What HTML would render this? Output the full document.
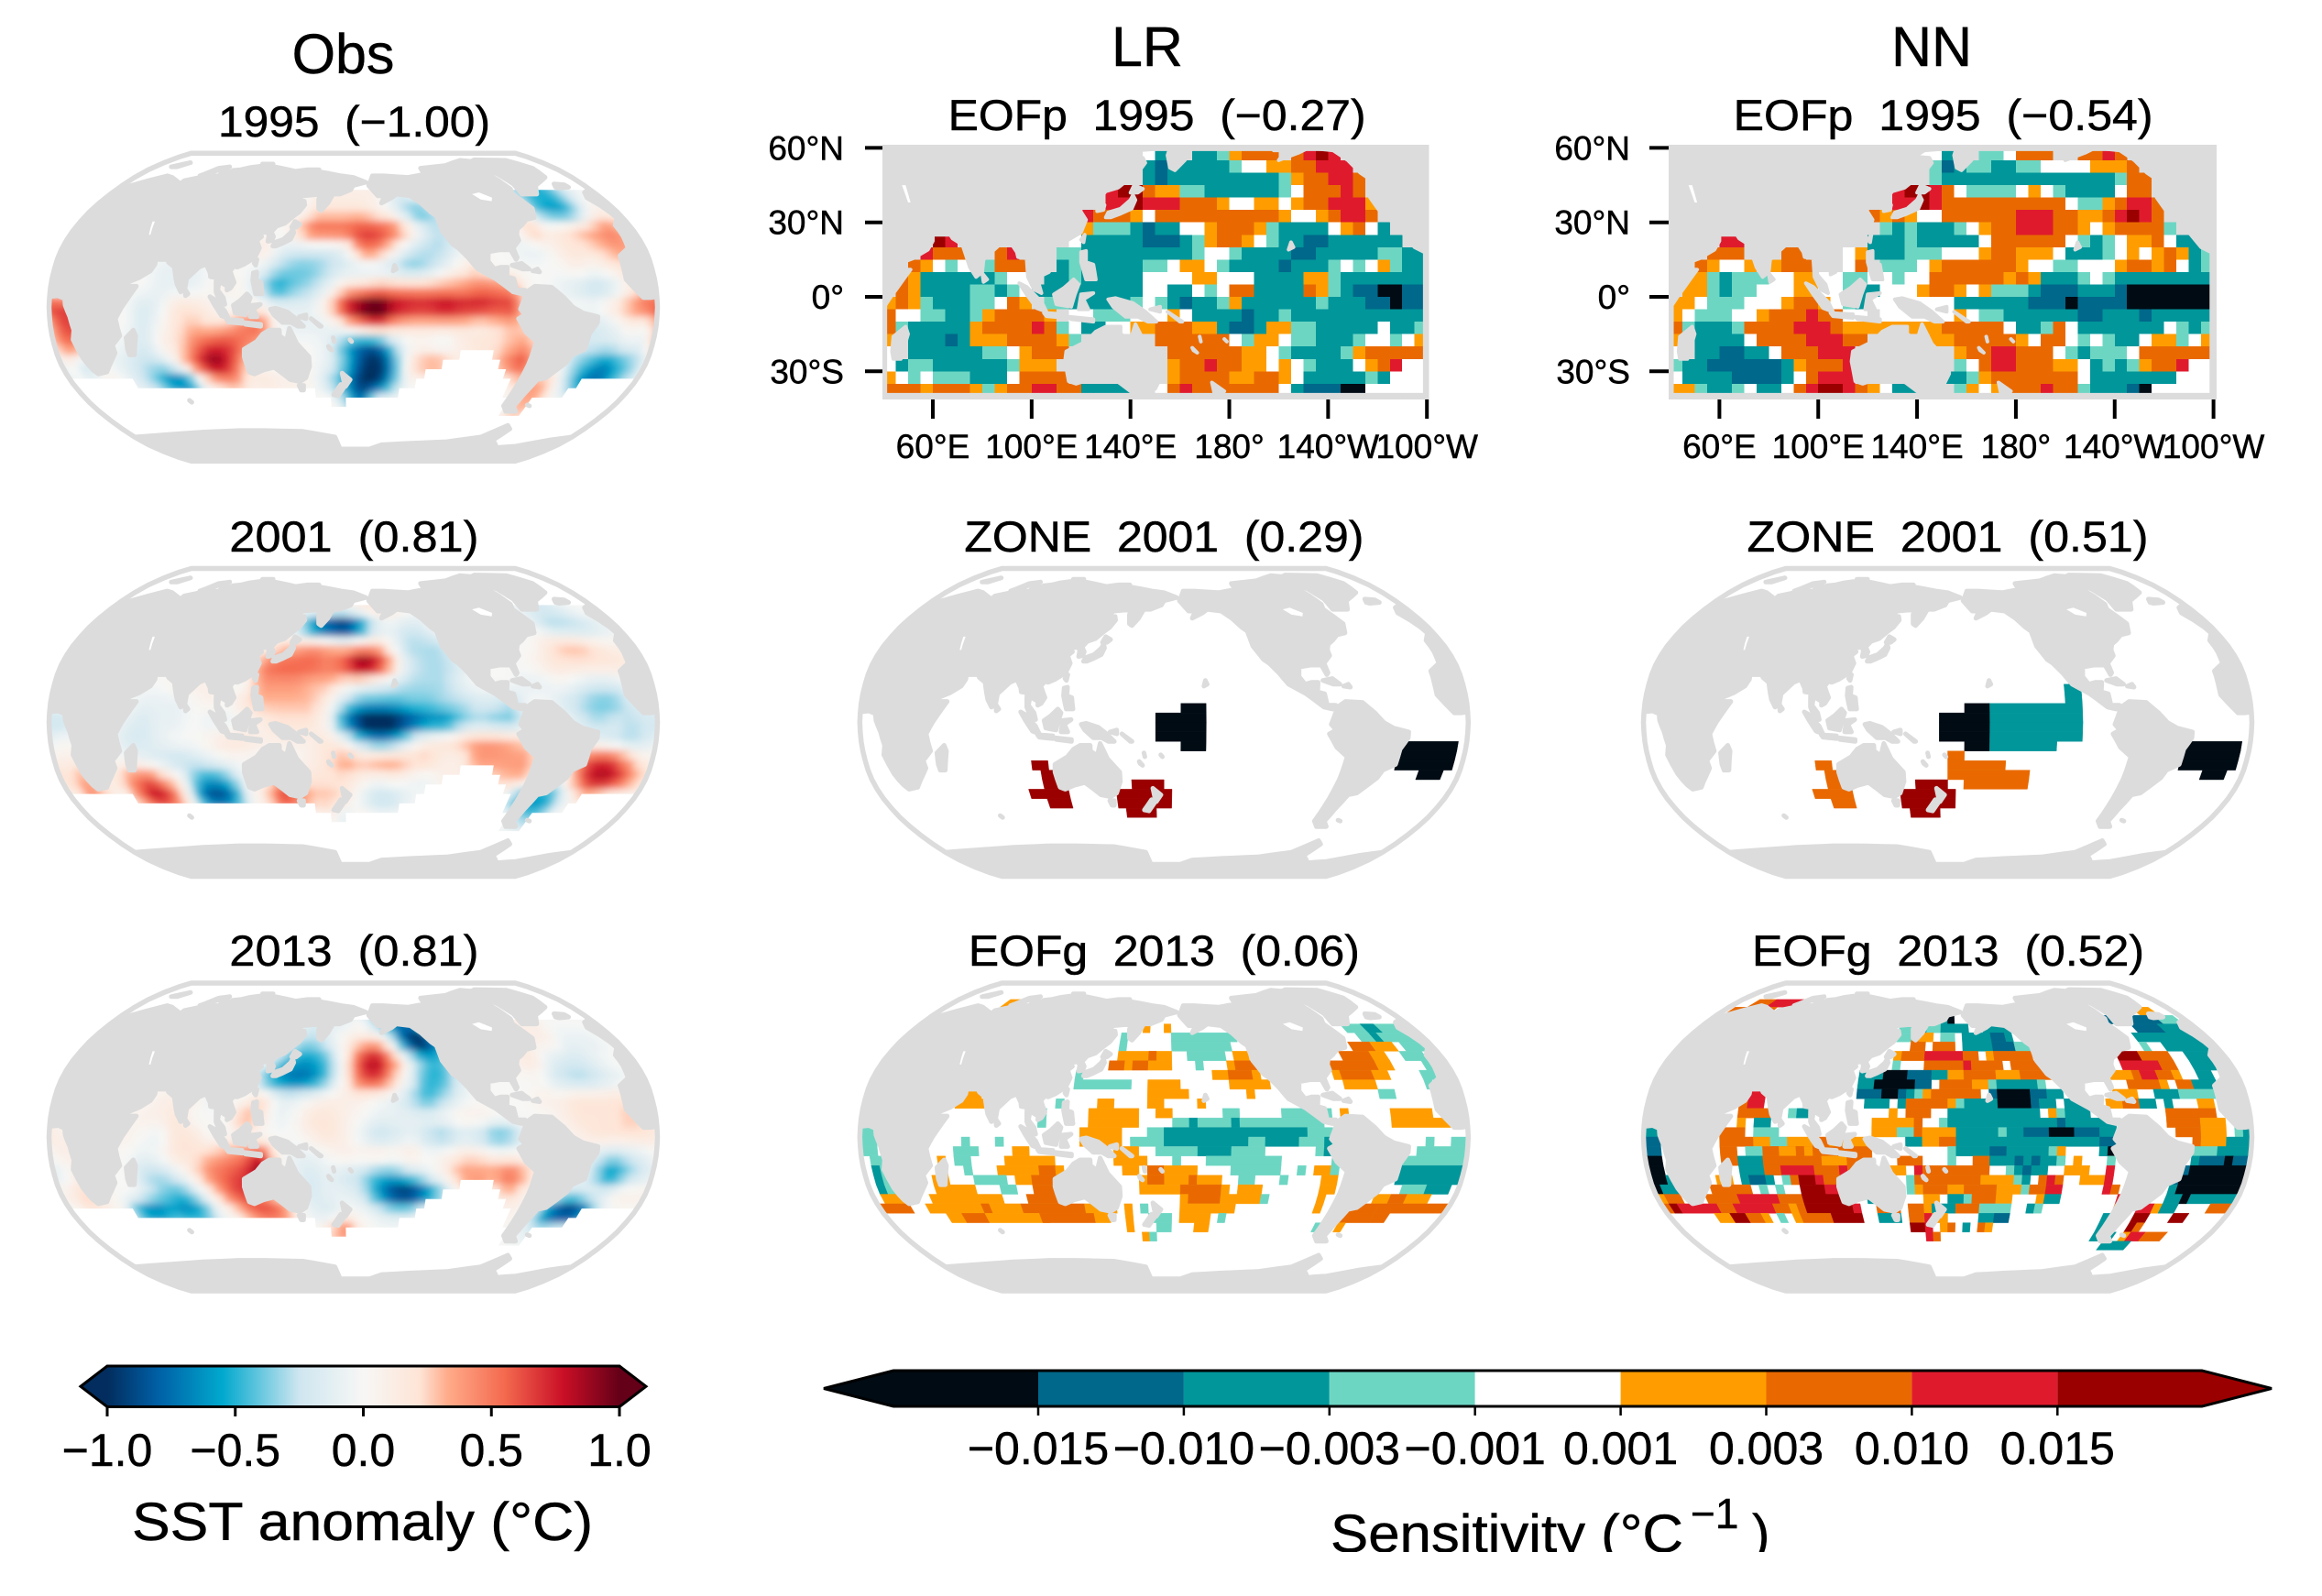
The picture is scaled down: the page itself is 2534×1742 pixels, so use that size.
<!DOCTYPE html>
<html lang="en">
<head>
<meta charset="utf-8">
<title>SST anomaly and sensitivity maps</title>
<style>
html,body{margin:0;padding:0;background:#fff;}
#root{position:absolute;left:0;top:0;width:2534px;height:1742px;overflow:hidden;}
svg{position:absolute;left:0;top:0;}
text{font-family:"Liberation Sans",sans-serif;fill:#000;white-space:pre;stroke:#000;stroke-width:0.5;}
</style>
</head>
<body>
<div id="root">
<svg id="fig" xmlns="http://www.w3.org/2000/svg" width="2534" height="1742" viewBox="0 0 2534 1742">
<defs id="defs">
<filter id="soft" x="-5%" y="-5%" width="110%" height="110%"><feGaussianBlur stdDeviation="3.6"/></filter>
<clipPath id="label-clip"><rect x="0" y="1560" width="2534" height="134"/></clipPath>
</defs>
<g id="maps"></g>
<g>
<text x="374.5" y="80" font-size="61" text-anchor="middle">Obs</text>
<text x="1252" y="72" font-size="61" text-anchor="middle">LR</text>
<text x="2108" y="72" font-size="61" text-anchor="middle">NN</text>
</g>
<g font-size="47" text-anchor="middle">
<text x="386.5" y="149" textLength="297" lengthAdjust="spacingAndGlyphs">1995  (−1.00)</text>
<text x="1262.6" y="142" textLength="456" lengthAdjust="spacingAndGlyphs">EOFp  1995  (−0.27)</text>
<text x="2120.6" y="142" textLength="458" lengthAdjust="spacingAndGlyphs">EOFp  1995  (−0.54)</text>
<text x="386.4" y="602" textLength="272" lengthAdjust="spacingAndGlyphs">2001  (0.81)</text>
<text x="1270.4" y="602" textLength="436" lengthAdjust="spacingAndGlyphs">ZONE  2001  (0.29)</text>
<text x="2125.5" y="602" textLength="438" lengthAdjust="spacingAndGlyphs">ZONE  2001  (0.51)</text>
<text x="386.4" y="1054" textLength="272" lengthAdjust="spacingAndGlyphs">2013  (0.81)</text>
<text x="1270.4" y="1054" textLength="427" lengthAdjust="spacingAndGlyphs">EOFg  2013  (0.06)</text>
<text x="2126" y="1054" textLength="428" lengthAdjust="spacingAndGlyphs">EOFg  2013  (0.52)</text>
</g>
<g id="cbar-sst"></g>
<g id="cbar-sens"></g>
<g clip-path="url(#label-clip)">
<text x="144" y="1681" font-size="58" textLength="503" lengthAdjust="spacingAndGlyphs">SST anomaly (°C)</text>
<text x="1452" y="1694" font-size="58" textLength="385" lengthAdjust="spacingAndGlyphs">Sensitivity (°C</text>
<text x="1845" y="1668" font-size="46">−1</text>
<text x="1912" y="1694" font-size="58">)</text>
</g>
</svg>
</div>
<script>
/* ---------- colour classes ---------- */
var sensCodes = ['a','b','c','d','w','e','f','g','h'];
var sensColors = ['#000b14','#00688a','#00969a','#6dd6c3','#ffffff','#ff9d00','#e96900','#e01a2d','#9b0000'];
var sensTicks = [-0.015,-0.010,-0.003,-0.001,0.001,0.003,0.010,0.015];
var sensTickLabels = ['−0.015','−0.010','−0.003','−0.001','0.001','0.003','0.010','0.015'];
var sstTicks = [-1,-0.5,0,0.5,1];
var sstTickLabels = ['−1.0','−0.5','0.0','0.5','1.0'];
var sstStopValues = [-1,-0.8,-0.55,-0.25,0,0.22,0.33,0.55,0.78,1];
var sstStopColors = ['#022d5e','#0060a6','#01a9ce','#cfe6f0','#f7f7f5','#fee4d6','#ffab8a','#f46a4f','#ca0f26','#640018'];

/* ---------- top row: 5 degree cells, 44 columns from 40E, 20 rows from 60N ---------- */
var lrEofp = [
"____ ____ ____ ____ ____ _wc_ _ccd efff _fgh g___ ____",
"____ ____ ____ ____ ____ _cbc cccc dwwe effg gg__ ____",
"____ ____ ____ ____ ____ _cbc cccc cccc deff ggf_ ____",
"____ ____ ____ ____ __gh hfee ddcc cccc dwff fgf_ ____",
"____ ____ ____ ____ __gg hggg fffe wwee weff ggge ____",
"____ ____ ____ ____ gfff ewff ffff ffff ewwe fggf ____",
"____ ____ ____ ____ eddd cbcc wwef ffed cccc wefw c___",
"____ hg__ ____ ___w cccc cbbb cdef fewd ccbb cccc cc__",
"___g fff_ _fg_ __dd cccc cccc cdww dccc cbbc cccc ddcc",
"__fe wdw_ dfff __cd cccc cddw eewd cccc bccc dwdw edcc",
"_fec cccc cdww _ccd cccc cwww weew wwcc ccee dccc cccc",
"_fec cccd dcdw cccc cccc cwwc cwdw ffcc ccfe dcbb aabb",
"efed cccd dwfe _ddc cccc dwdc bccd eccc cccd cccb babb",
"fwwd dccd efff fe_w wddd wwwe wccc cbcc dccc cccc cccc",
"fdcc ccce ffff gfdw ccww eeff feec bbce eddc cccc wccd",
"e_cc cbce eeff ffed ____ __ff ffff wdee wddc ccdw wdwe",
"w_cc cccc ddwe fff_ ____ ___f ffff feew dccc cdef ffff",
"wcdd cccc ccde ee__ ____ ___e ffgf feew ewdc ccwe fgww",
"ewdw dddc ccwf fff_ ____ ___e ffff eeff ewcc cccd cwww",
"fffe fffe deff ggff cccc __wf gfff ffff wcbb baaw wwww"
];
var nnEofp = [
"____ ____ ____ ____ ____ wwc_ _ddw fff_ _ffg f___ ____",
"____ ____ ____ ____ ____ _dbc ddcc ddww wwee ef__ ____",
"____ ____ ____ ____ ____ _dcc cccc cccc cccc dff_ ____",
"____ ____ ____ ____ __gh hgfw dddd wewd cccc wff_ ____",
"____ ____ ____ ____ __gg hgff ffff ffff wdde fggf ____",
"____ ____ ____ ____ fefe wwff ffff gggf feef ghgf ____",
"____ ____ ____ ____ _dcd cccd weff gggf fewe ffff d___",
"____ gg__ ____ ____ cccd cccc cwff ffff wdcd weef wcc_",
"___f ff__ _ff_ __we cccd ddww weff eeew cccd wewe fecd",
"__fe wwe_ efff __wf _ddd weff ffff ewwd dwww effe fwcd",
"_eed cddd wwee wwdd wwdw wfff fffe fecc cdwd cccc cccc",
"_eed cddw wwee wwdc cwww effe wedd dcbb bccc baaa aaaa",
"eewd ddww weff ewdc wwww wwwc cccc cbbb abbb baaa aaaa",
"ewdd dwwe fffg ffww _www wwwe wddc cccc cbbc ccbc cccc",
"fdcc cdff ffgg gfee eeee eeff fffw ccdf wccc cccc wdcd",
"e_cc ccwf fffg ggff ____ _eef ffff ewff wdwd ccwe edwe",
"w_cc bbcc wfff ggg_ ____ ___e ffgg fffw dcdd dwff ffff",
"dccb bbbb bcef ffg_ ____ ___d wfgg fffe ewcd cdef fgww",
"wccc cbbb bcwf ggg_ ____ __cc deff ffff fwcc cccc cwww",
"eedc cdwc cwfg hhgf ewcc ___d ewef ffgf fdcc cbaw wwww"
];
var lonTicks = [60,100,140,180,220,260];
var lonTickLabels = ['60°E','100°E','140°E','180°','140°W','100°W'];
var latTicks = [60,30,0,-30];
var latTickLabels = ['60°N','30°N','0°','30°S'];

/* ---------- Robinson panels: rows of 5 degree bands, upper latitude from 75 down to -55.
   Each run is "firstCol-lastCol+class"; col k spans lon 5k..5k+5 ---------- */
var lrEofg = [
"9-11e","","",
"33e 36e 62-71d 65-66c",
"30d 37-45d 63-71d 65c",
"30d 37-44d 61-63f 64-66e 68-71d",
"30-36e 34f 39-43d 45-46e 59-62f 63-64e 67-69d",
"5-6e 29-30f 31e 32-33f 34-36e 40d 44e 45-47f 57-62f 63-64e 69d",
"25d 42-43e 44-46f 47e 57e 58-61f 62-63e 68-69d",
"25-31d 34-37e 44-48e 58-61e 68d",
"12-13e 34-38e 46e 62-63d",
"11-14e 23d 28-29e 34-35e 40e",
"21d 27-32e 35-36e 43-44d 50-55d 57e 63-67e",
"21d 27-32e 37-38d 39c 40-43d 44c 45-54d 63-69e",
"0-1d 26-30e 34-35d 36-52c 53-55d",
"0-1d 12d 16d 26-30e 32-35d 36-45c 46-47d 48-51c 52-54d 55c 67d 70-71d",
"0-1d 11-13d 18-19e 30-32e 35-39d 40-43c 44-47d 54d 55c 66-71d",
"1-2d 9e 11-12d 17-22e 30-33e 37d 41-49d 56d 64-71d",
"1c 2d 9e 12d 16-20e 21-22f 23e 31-32e 34-35f 36-39e 44-49d 52d 54-55e 56d 64-71c",
"1c 2-3d 8-9e 13-16d 18-19e 20-23f 33-38e 34-35f 39f 40-42e 45-46d 50d 55-56e 64-71c",
"1c 2-4d 8-12e 16-17d 20-23f 33-37e 38-42f 43e 45-47e 55-56e 65-67d 68-70c",
"1-3e 7-15e 19-23f 27-28e 38e 39-42f 43-47e 48d 55e 62-63e 64-65f 66-68e",
"0-3f 6-11e 12-17e 13f 18-25f 26-29e 31e 33d 38-44e 55e 59-62f 63-71f",
"8-9e 10-12f 13-20e 20-26f 27-28e 31e 34-36d 38-41e 43d 59-62f 63-64f",
"31e 35-36d 40-41e 56d 59e",
"33e 34d",
""
];
var nnEofg = [
"3-5f 6-10g",
"1-7f 66-68e",
"29-30d 33-35c 36a 59-67b 68-70d",
"29-30d 31-32c 33-34d 35-38c 41-44c 63-66b 67-71c",
"29-30d 31f 32-33e 35-36d 38-41c 42-43b 44c 62-71c",
"31-32f 34-36f 38-41c 42-44b 45-46d 62d 65-71c",
"29e 30-32f 33-37g 38-39f 41e 42-46f 58-60h 61-64f 67-70c",
"29d 33-37f 38g 39-42f 44-47f 58-62g 63-64f 67-69c",
"25-27c 28-30a 31-33b 34-35c 36-37e 38-41f 42-44e 45-48f 56-58e 59f 60-61g 62-63f 64e 67-68c",
"25-26c 27-31a 32-33b 35-38f 39-40e 41d 42-46c 47d 58-61f 62e 64-65f 66-68c",
"12-13g 25-27b 28-29a 30b 31c 32d 33e 34-39f 41b 42-45a 46-47b 48-49c 56-58e 61-63c 64-68d",
"11f 12-13g 26-28c 30c 31-35f 36e 37d 38-41c 42-45a 46b 47-48c 50-52c 55-56e 57-58f 59-60c 62c 66-67e",
"11-14f 17d 18-19c 29e 31-33f 36-46c 48e 49d 50-52c 62-67f",
"11e 13-14c 27-31e 32f 35d 36-48c 49b 50-55c 62-65f 66-68e 70-71d",
"0-1c 9-11f 13-15d 27-29e 30-31d 32f 33-36e 37-41c 42d 43-44c 45-47b 48-50a 51-53b 54-55c 63-65f 66-68e 70d 71c",
"0-1b 9-12f 13-14e 15-16d 17-19e 20-21f 22-26e 31-32c 33-34e 35-36f 37-53c 54-55b 65f 66-68e 69-71c",
"0-1b 14-26f 9-10f 12-13d 15f 16-17e 18f 19e 20-21f 36d 37-40c 41-42b 43-47c 48d 49e 54c 55-56a 65-67d 68-71c",
"0-1a 9-10f 11-13c 14-20f 21-23e 24-26f 30-32f 36d 39-40f 41-49c 44b 46b 49d 51e 55d 65c 66-68b 69a 70-71b",
"0-1a 11-13c 14-15f 16-19g 20-22f 23g 24-25f 29-30e 32g 33-40f 43d 44-47c 45b 50-51e 52e 55g 64b 65-71a",
"0-1a 2c 8-9e 11c 12-13b 14c 16d 17f 18-19h 20g 21-22f 31-32d 32-39f 40-43e 44d 45c 47f 48g 49f 52-54e 55g 63b 64-71a",
"0a 1-2c 7-11f 13d 15d 18-20h 21-22g 31d 32e 33-36f 36-37e 38-41f 42-44e 45d 46-47f 48-49g 55g 56f 63c 64-71a",
"0e 1-2f 6-9f 10-14g 15-17f 18-22h 26-27c 33-34e 36-37c 38d 39-41f 42-43e 47e 48-49c 57g 63-64c 65a 66-71c",
"0f 1h 2-6g 7-8f 9-13g 14-15f 16e 17f 18-23h 24g 27-29f 31-32f 33e 34-36c 37-39f 40-43d 46c 47d 57f 60-61g 62e 63-64c 69-71f",
"6-7e 8-9h 10-11f 12e 14d 16e 17-20f 21-24h 27-29c 31-32f 33g 34-35e 40-41c 42-43b 56-57c 60-61h 65-66h",
"31-32h 33g 35e 36f 38c 40f 41e 56-57c 60h 61f",
"33g 34f 56-58c 60e 61-62g 63-65f",
"58-61c"
];
var lrZone = ["","","","","","","","","","","","","","38-40a","35-40a","35-40a","35-40a","38-40a 64-70a","64-70a","20-21h 64-70a","21-22h 67-69a","21-23h 32-35h","19-23h 30-36h","21-23h 30-36h","31-34h","",""];
var nnZone = ["","","","","","","","","","","","50-51c","50-51c","38-40a 41-51c","35-40a 41-51c","35-40a 41-51c","35-40a 41-51c","38-40a 41-48c 64-70a","36-37f 64-70a","36-42f 20-21f 64-70a","36-45f 21-22f 67-69a","38-45f 21-23f 32-35h","19-23f 30-36h","21-23f 30-36h","31-34h","",""];

/* ---------- observed SST anomaly in tenths of a degree: rows lat 60..-60 (step 10), cols lon 5..355 (step 10) ---------- */
var sst1995 = [
[0,0,0,0,0,0,0,0,0,0,0,0,0,0,0,1,1,1,1,1,-1,-2,0,0,0,0,0,0,0,0,-4,-5,-5,-3,-1,0],
[0,0,0,0,0,0,0,0,0,0,0,0,0,0,0,2,2,2,2,1,0,-3,-5,-3,-1,0,0,0,0,0,-4,-6,-6,-3,1,1],
[0,0,0,0,0,0,0,0,0,0,0,0,0,0,3,6,6,6,7,7,6,3,-1,-3,-2,-1,0,0,0,4,1,2,3,4,5,3],
[0,0,0,0,0,0,0,0,0,0,0,0,2,-1,-2,-2,-2,-1,5,5,1,-2,-3,-3,-1,0,0,0,-1,-1,1,2,2,3,4,3],
[0,0,0,0,0,0,-1,-1,-1,0,0,0,-1,-3,-4,-4,-3,-2,-2,-2,-3,-4,-3,-1,1,2,0,0,0,0,0,1,0,1,2,1],
[0,0,0,0,0,0,-1,-1,-1,0,1,0,-3,-6,-4,-3,-1,2,3,4,4,4,4,4,4,5,5,4,0,0,-1,-2,-3,-2,1,3],
[7,6,0,0,0,-2,-1,2,2,1,-1,1,1,-1,-1,-1,2,8,11,12,9,8,8,9,8,8,7,7,0,0,0,0,0,2,4,6],
[6,7,0,0,0,-2,0,2,3,2,3,5,6,0,-1,-1,-1,1,4,6,3,2,2,2,2,1,2,3,2,0,-1,-2,-2,-1,1,0],
[5,5,0,0,-1,-2,1,2,5,7,7,5,3,0,0,0,-1,-5,-8,-8,-3,0,0,-1,1,2,2,3,4,0,-1,-2,-2,-2,-1,-1],
[1,-3,0,-1,-2,-3,-2,2,7,10,7,2,0,0,1,0,-1,-4,-9,-11,-6,2,4,4,1,1,2,5,7,0,0,-3,-5,-7,-5,-3],
[0,-1,1,0,-2,-4,-8,-8,0,3,4,1,2,1,1,0,-3,-6,-10,-10,-5,0,0,0,0,0,0,0,2,4,3,-2,-7,-8,-5,-2],
[0,0,0,0,0,0,0,0,0,0,0,0,0,0,0,0,1,-3,-8,0,0,0,0,0,0,0,0,0,0,4,3,0,0,0,0,0],
[0,0,0,0,0,0,0,0,0,0,0,0,0,0,0,0,0,0,0,0,0,0,0,0,0,0,0,0,0,3,0,0,0,0,0,0]
];
var sst2001 = [
[0,0,0,0,0,0,0,0,0,0,0,0,0,0,0,0,0,0,1,2,2,1,0,0,0,0,0,0,0,0,-1,-2,-2,-1,0,0],
[0,0,0,0,0,0,0,0,0,0,0,0,0,0,-4,-9,-11,-12,-8,-3,-1,-2,-2,0,0,0,0,0,0,0,-1,-3,-3,-3,-2,-1],
[0,0,0,0,0,0,0,0,0,0,0,0,0,2,3,4,3,2,3,3,0,-3,-3,-3,-1,0,0,0,0,0,2,3,3,2,1,1],
[0,0,0,0,0,0,0,0,0,0,0,0,5,6,6,6,5,7,11,9,3,-2,-3,-3,-2,0,0,0,0,1,2,2,2,2,2,1],
[0,0,0,0,0,0,0,1,1,1,0,0,4,4,4,3,3,1,0,-1,-2,-3,-3,-3,-1,0,0,0,-1,-1,0,-1,-2,-2,-1,0],
[0,0,0,0,0,-1,-1,-1,0,1,0,2,3,3,3,3,1,-3,-5,-5,-5,-4,-4,-3,-3,-2,-2,-3,0,0,-2,-3,-4,-4,-2,-1],
[-3,-2,0,0,-1,-2,-1,-1,0,-1,-1,0,1,2,2,2,0,-7,-11,-13,-11,-9,-7,-7,-4,-3,-4,-4,0,0,0,-2,-3,-2,-3,-2],
[0,0,0,0,-2,-2,-1,0,0,1,2,2,1,1,1,1,2,0,-4,-6,-5,-1,1,2,3,4,4,3,2,0,0,0,-1,-2,-3,-2],
[1,1,0,0,0,-1,-2,-3,-2,-1,0,0,0,0,0,1,2,4,3,4,4,3,3,1,1,4,4,4,4,0,1,4,7,7,4,1],
[2,4,1,2,5,6,3,0,-5,-6,-4,0,1,3,1,2,2,2,1,0,1,0,-1,1,1,2,2,3,3,0,-2,3,8,9,7,3],
[1,5,2,0,5,9,7,1,-8,-10,-7,0,2,8,6,3,3,2,-1,-3,-3,-1,0,0,0,0,0,0,-6,-7,-6,-2,2,1,0,0],
[0,0,0,0,0,0,0,0,0,0,0,0,0,0,0,0,1,-2,1,0,0,0,0,0,0,0,0,0,0,-4,-4,0,0,0,0,0],
[0,0,0,0,0,0,0,0,0,0,0,0,0,0,0,0,0,0,0,0,0,0,0,0,0,0,0,0,0,0,0,0,0,0,0,0]
];
var sst2013 = [
[0,0,0,0,0,0,0,0,0,0,0,0,0,0,-1,-2,-1,-1,0,-3,-6,-8,-6,0,0,0,0,0,0,1,1,1,0,0,0,0],
[0,0,0,0,0,0,0,0,0,0,0,0,0,0,-3,-3,-1,1,2,3,0,-8,-12,-8,-2,0,0,0,0,1,1,1,-1,-1,-1,0],
[0,0,0,0,0,0,0,0,0,0,0,0,0,-4,-6,-6,-4,1,7,9,5,0,-4,-5,-2,0,0,0,1,2,-1,-2,-2,-1,0,0],
[0,0,0,0,0,0,0,0,0,0,0,0,-5,-7,-8,-7,-4,1,6,7,3,-1,-5,-5,-2,0,0,0,0,0,-2,-3,-3,-2,-1,0],
[0,0,0,0,0,0,1,1,1,-1,0,0,3,-1,-1,0,1,1,1,0,-1,-3,-5,-3,-1,0,0,0,0,1,1,2,2,2,2,1],
[0,0,0,0,0,1,1,2,0,0,0,4,2,-1,0,2,2,1,0,-1,-1,-1,-1,0,1,1,0,0,0,0,1,2,2,2,3,2],
[1,1,0,0,1,0,-1,2,2,0,0,1,0,0,0,1,2,1,-1,-3,-2,-1,-3,-4,-2,-3,-5,-4,0,0,0,1,2,2,2,2],
[1,1,0,0,0,-1,0,2,2,3,4,5,8,1,-1,-1,0,1,1,2,1,2,0,1,2,2,1,1,0,0,0,0,-2,-3,-2,-1],
[-1,1,0,0,0,-3,-3,-1,2,5,6,7,10,0,-1,-2,-1,-2,-3,-5,-5,-3,-1,1,4,4,4,6,3,0,0,0,-3,-7,-4,-2],
[1,3,1,0,0,-2,-4,-5,-2,2,6,7,4,1,-1,-2,-1,-1,-2,-6,-10,-11,-8,-4,0,4,0,3,1,0,-1,-3,-1,-1,1,1],
[0,2,1,0,-7,-8,-6,-7,-6,-1,1,5,7,6,1,-1,-2,0,0,-1,-2,-2,0,0,0,0,0,0,1,-2,-8,-11,-10,-2,0,0],
[0,0,0,0,0,0,0,0,0,0,0,0,0,0,0,0,3,6,1,0,0,0,0,0,0,0,0,0,0,-1,-2,0,0,0,0,0],
[0,0,0,0,0,0,0,0,0,0,0,0,0,0,0,0,0,0,0,0,0,0,0,0,0,0,0,0,0,0,0,0,0,0,0,0]
];
/* southern edge of the observed field per 5 degree longitude column */
var sstSouthLimit = [-37.5,-37.5,-37.5,-37.5,-37.5,-37.5,-37.5,-37.5,-42.5,-42.5,-42.5,-42.5,-42.5,-42.5,-42.5,-42.5,-42.5,-42.5,-42.5,-42.5,-42.5,-42.5,-42.5,-42.5,-42.5,-42.5,-42.5,-42.5,-42.5,-42.5,-42.5,-47.5,-47.5,-52.5,-52.5,-47.5,-47.5,-47.5,-47.5,-47.5,-47.5,-47.5,-42.5,-42.5,-37.5,-32.5,-32.5,-27.5,-27.5,-22.5,-22.5,-22.5,-22.5,-27.5,-32.5,-37.5,-47.5,-57.5,-57.5,-57.5,-47.5,-47.5,-47.5,-47.5,-42.5,-37.5,-37.5,-37.5,-37.5,-37.5,-37.5,-37.5];

/* ---------- coastlines, lon 0..360 ---------- */
var landPolys = [
[[0,5.5],[5,6],[9,4.5],[9.5,1],[12,-5],[13.5,-12],[12,-17],[15,-27],[18,-33],[20,-35],[26,-34],[32,-28],[35.5,-24],[35,-20],[40.5,-15],[39,-6],[43,0],[51,11],[45,11],[43.5,12.5],[45,12.8],[52,15.5],[58,19],[60,22.5],[60,25],[67,25],[68,23.5],[72,21],[73,18],[75,12],[77.5,8],[80,10],[80.5,15],[87,21],[91,22.5],[94,18],[94.5,16],[98,15.5],[98.5,8],[101,3],[104,1.5],[103,5],[99.5,9],[100,13.5],[105,11],[105,9],[107,10],[109,13],[106,19],[108,21.5],[110,21],[114,22.5],[120,26],[122,31],[119.5,35],[122,37],[118,39],[121.5,39],[125,39.5],[126.5,37.5],[126.5,34.5],[129,35],[129.5,37],[127.5,39.5],[130,42.5],[135,44],[140,48],[143,50],[146,54],[145,56],[139,56.5],[143,59],[156,60],[155,57],[156,52],[158,51],[162,55],[165,60],[170,60],[178,62.5],[180,65],[190,67],[180,70],[170,71],[160,72.5],[140,75],[130,74],[113,76.5],[105,77.5],[100,78],[87,76.5],[81,75],[75,74.5],[73,71],[72,74],[67,74],[68,71],[60,71],[54,70],[44,68],[44,66],[40,64.5],[35,66],[41,67],[31,70],[25,71],[15,68],[7,65],[0,62]],
[[360,5.5],[356,5],[352,5],[347,10],[343,14.5],[343,21],[343,27],[350,31],[351,37],[351,43],[356,47],[355,50],[353,54],[350,58],[353,61],[360,63]],
[[44,-25],[47,-25],[50,-15],[49,-12],[44,-16],[43.5,-22]],
[[80,9.5],[82,7],[80.5,6]],
[[130,32],[131,34],[136,35.5],[140,39],[141,41],[142,39],[140.5,35.5],[136,33.5],[132,32]],
[[140,42],[141.5,45],[145,43.5],[143,42]],
[[120,23],[121.5,25],[121,22]],
[[120,18],[122,18.5],[122,14],[125,13],[126,7],[122,7],[120,14]],
[[109,1],[113,3.5],[117,7],[119,5],[117.5,1],[116,-4],[110,-3]],
[[95,5.5],[98,4],[104,-2],[106,-6],[102,-4.5],[98,1]],
[[105,-6.5],[114,-7],[114,-8.5],[106,-7.8]],
[[119,-5],[120,1],[125,1.5],[121,-1],[123,-5]],
[[131,-1],[134,-0.5],[141,-2.5],[146,-6],[150.5,-10],[147,-10],[143,-8],[138,-8],[133,-4]],
[[115,-8],[125,-9],[125,-10],[116,-9]],
[[148,-5],[152,-4],[152,-6]],
[[155,-6],[161,-10],[160,-10]],
[[165,-20.5],[167,-22.5],[165.5,-21.5]],
[[168,-16],[168.5,-18]],
[[178,-17],[179,-18]],
[[114,-22],[122,-18],[126,-14],[130,-12],[136,-12],[136,-15],[140,-17.5],[142,-11],[146,-19],[153,-26],[153,-31],[150,-37],[146,-39],[140,-38],[136,-35],[131,-31.5],[124,-33],[118,-35],[115,-34],[113.5,-26]],
[[145,-41],[148,-41],[147.5,-43.5],[146,-43.5]],
[[173,-34.5],[178,-38],[175,-41.5],[174,-39]],
[[172,-40.5],[174,-42],[170,-46.5],[167,-46]],
[[204,19],[205,22],[206,20]],
[[69,-49],[70,-50]],
[[192,65],[196,71],[205,71],[225,70],[240,72],[240,76],[265,78],[285,82],[295,81],[292,74],[297,68],[300,63],[298,60],[304,52],[301,47],[295,46],[290,43],[286,41],[284,38],[284,35],[279,31],[280,26],[279,25],[277,30],[270,30],[263,29],[262,24],[265,20],[269,21],[273,21],[272,16],[276,15],[277,9],[282,9],[280,7],[275,8],[265,15],[255,20],[250,26],[245,31],[242,33],[237,40],[236,48],[233,50],[228,55],[222,59],[212,60],[208,58],[200,55],[203,59],[198,59],[195,62]],
[[305,60],[316,60],[322,65],[338,70],[340,76],[330,82],[300,82.5],[290,80],[296,77],[302,72],[306,66]],
[[336,64],[338,66],[345,65.5],[346,64],[338,63.5]],
[[15,77],[25,80],[20,77]],
[[52,71],[68,77],[60,76],[54,72]],
[[95,79],[105,79],[100,78]],
[[140,75],[150,75],[145,74]],
[[276,22],[282,23],[286,20],[282,20]],
[[288,19],[291,20],[292,18.5]],
[[282,-4],[279,-1],[283,8],[288,11],[298,10.5],[305,5],[310,0],[316,-3],[325,-5],[325,-8],[321,-14],[320,-22],[313,-25],[311,-29],[302,-37],[297,-38],[295,-42],[293,-46],[291,-52],[295,-55],[288,-55],[284,-52],[286,-40],[288,-30],[290,-18],[283,-13],[278,-6]],
[[300,-51.5],[302,-52]],
[[0,-70],[40,-68],[60,-67],[90,-66],[110,-66],[140,-66.5],[165,-70],[168,-78],[195,-78],[205,-75],[230,-74],[260,-73],[285,-70],[298,-63],[302,-65],[298,-72],[310,-77],[325,-76],[345,-72],[360,-70],[360,-90],[0,-90]]
];
var lakePolys = [
[[268,60],[274,61],[281,58],[279,56],[272,57]],
[[47.5,45],[49,45],[51,38],[50,38]]
];

/* ---------- Robinson table ---------- */
var robLat = [0,5,10,15,20,25,30,35,40,45,50,55,60,65,70,75,80,85,90];
var robX = [1,.9986,.9954,.99,.9822,.973,.96,.9427,.9216,.8962,.8679,.835,.7986,.7597,.7186,.6732,.6213,.5722,.5322];
var robY = [0,.062,.124,.186,.248,.31,.372,.434,.4958,.5571,.6176,.6769,.7346,.7903,.8435,.8936,.9394,.9761,1];

var SVGNS = 'http://www.w3.org/2000/svg';
function mk(tag, attrs, parent){
  var el = document.createElementNS(SVGNS, tag);
  for (var k in attrs) el.setAttribute(k, attrs[k]);
  if (parent) parent.appendChild(el);
  return el;
}
function interp(xs, ys, v){
  for (var i = 0; i < xs.length - 1; i++){
    if (v <= xs[i+1]){
      var t = (v - xs[i]) / (xs[i+1] - xs[i]);
      return ys[i] + (ys[i+1] - ys[i]) * t;
    }
  }
  return ys[ys.length-1];
}
function robinson(cx, cy){
  return function(lon, lat){
    var a = Math.min(90, Math.abs(lat));
    var X = interp(robLat, robX, a), Y = interp(robLat, robY, a);
    return [cx + 332 * X * (lon - 180) / 180, cy - (lat < 0 ? -1 : 1) * 168 * Y];
  };
}
function plate(x60){
  return function(lon, lat){
    return [x60 + (lon - 60) * 2.696, 324 - lat * 2.71];
  };
}
function pathOf(polys, proj){
  var d = '';
  polys.forEach(function(poly){
    for (var i = 0; i < poly.length; i++){
      var a = poly[i], b = poly[(i + 1) % poly.length];
      var steps = Math.max(1, Math.ceil(Math.abs(b[0] - a[0]) / 10), Math.ceil(Math.abs(b[1] - a[1]) / 5));
      if (i === 0) { var s = proj(a[0], a[1]); d += 'M' + s[0].toFixed(1) + ' ' + s[1].toFixed(1); }
      for (var j = 1; j <= steps; j++){
        var p = proj(a[0] + (b[0] - a[0]) * j / steps, a[1] + (b[1] - a[1]) * j / steps);
        d += 'L' + p[0].toFixed(1) + ' ' + p[1].toFixed(1);
      }
    }
    d += 'Z';
  });
  return d;
}
function quad(proj, lon0, lon1, lat0, lat1){
  var pts = [proj(lon0, lat0), proj(lon1, lat0), proj(lon1, lat1), proj(lon0, lat1)];
  return pts.map(function(p){ return p[0].toFixed(1) + ',' + p[1].toFixed(1); }).join(' ');
}
function hexToRgb(h){ return [parseInt(h.substr(1,2),16), parseInt(h.substr(3,2),16), parseInt(h.substr(5,2),16)]; }
function sstColor(v){
  v = Math.max(-1, Math.min(1, v));
  for (var i = 0; i < sstStopValues.length - 1; i++){
    if (v <= sstStopValues[i+1]){
      var t = (v - sstStopValues[i]) / (sstStopValues[i+1] - sstStopValues[i]);
      var a = hexToRgb(sstStopColors[i]), b = hexToRgb(sstStopColors[i+1]);
      return 'rgb(' + Math.round(a[0]+(b[0]-a[0])*t) + ',' + Math.round(a[1]+(b[1]-a[1])*t) + ',' + Math.round(a[2]+(b[2]-a[2])*t) + ')';
    }
  }
  return sstStopColors[sstStopColors.length-1];
}
function fieldAt(field, lon, lat){
  var r = (60 - lat) / 10; r = Math.max(0, Math.min(11.999, r));
  var r0 = Math.floor(r), tr = r - r0;
  var c = (lon - 5) / 10; if (c < 0) c += 36;
  var c0 = Math.floor(c) % 36, c1 = (c0 + 1) % 36, tc = c - Math.floor(c);
  var top = field[r0][c0] * (1 - tc) + field[r0][c1] * tc;
  var bot = field[r0+1][c0] * (1 - tc) + field[r0+1][c1] * tc;
  return (top * (1 - tr) + bot * tr) / 10;
}
function addLand(parent, proj, panel, thick){
  var land = mk('path', {d: pathOf(landPolys, proj), fill: '#dcdcdc', stroke: '#dcdcdc', 'stroke-width': thick, 'stroke-linejoin': 'round'}, parent);
  
  
  var lakes = mk('path', {d: pathOf(lakePolys, proj), fill: '#ffffff'}, parent);
  
  
}
function frameFor(proj){
  var d = '', lat, p;
  for (lat = -90; lat <= 90; lat += 5){ p = proj(0, lat); d += (lat === -90 ? 'M' : 'L') + p[0].toFixed(1) + ' ' + p[1].toFixed(1); }
  for (lat = 90; lat >= -90; lat -= 5){ p = proj(360, lat); d += 'L' + p[0].toFixed(1) + ' ' + p[1].toFixed(1); }
  return d + 'Z';
}
var rootMaps = document.getElementById('maps');
var defsEl = document.getElementById('defs');

function robinsonPanel(id, cx, cy, draw){
  var proj = robinson(cx, cy);
  var g = mk('g', {}, rootMaps);
  
  
  var clip = mk('clipPath', {id: 'frame-' + id}, defsEl);
  mk('path', {d: frameFor(proj)}, clip);
  var inner = mk('g', {'clip-path': 'url(#frame-' + id + ')'}, g);
  
  
  draw(inner, proj);
  addLand(inner, proj, id, 5);
  var outline = mk('path', {d: frameFor(proj), fill: 'none', stroke: '#dcdcdc', 'stroke-width': 5.5}, g);
  
  
}
function drawSst(id, field){
  return function(parent, proj){
    var clip = mk('clipPath', {id: 'ocean-' + id}, defsEl);
    var pts = [], k, p, la;
    function add(lon, lat){ var q = proj(lon, lat); pts.push(q[0].toFixed(1) + ',' + q[1].toFixed(1)); }
    for (k = 0; k <= 72; k++) add(5 * k, 62.5);
    for (la = 57.5; la > sstSouthLimit[71]; la -= 5) add(360, la);
    for (k = 71; k >= 0; k--){
      add(5 * k + 5, sstSouthLimit[k]);
      add(5 * k, sstSouthLimit[k]);
    }
    for (la = sstSouthLimit[0] + 5; la < 62.5; la += 5) add(0, la);
    mk('polygon', {points: pts.join(' ')}, clip);
    var clipped = mk('g', {'clip-path': 'url(#ocean-' + id + ')'}, parent);
    
    
    var soft = mk('g', {filter: 'url(#soft)'}, clipped);
    for (la = 70; la > -65; la -= 5){
      for (var c = -2; c < 74; c++){
        var lon = 5 * c;
        var col = sstColor(fieldAt(field, ((lon + 2.5) + 360) % 360, la - 2.5));
        var cell = mk('polygon', {points: quad(proj, lon, lon + 5, la, la - 5), fill: col, stroke: col, 'stroke-width': 0.8}, soft);
        
        
      }
    }
  };
}
function drawRuns(rows){
  return function(parent, proj){
    rows.forEach(function(row, r){
      if (!row) return;
      var upper = 75 - 5 * r;
      row.split(' ').forEach(function(run){
        var m = run.match(/^(\d+)(?:-(\d+))?([a-hw])$/);
        if (!m) return;
        var first = +m[1], last = m[2] ? +m[2] : first;
        var col = sensColors[sensCodes.indexOf(m[3])];
        var cell = mk('polygon', {points: quad(proj, first * 5, (last + 1) * 5, upper, upper - 5), fill: col, stroke: col, 'stroke-width': 0.4}, parent);
        
        
      });
    });
  };
}

/* rectangular panels */
function platePanel(id, x60, rows, ylabelRight, tickLeft, tickRight, axLeft, axRight){
  var proj = plate(x60);
  var g = mk('g', {}, rootMaps);
  
  
  var bg = mk('rect', {x: axLeft, y: 158, width: axRight - axLeft, height: 278, fill: '#dcdcdc'}, g);
  
  
  var clipData = mk('clipPath', {id: 'data-' + id}, defsEl);
  var c0 = proj(41.5, 58.7), c1 = proj(258.4, -38.7);
  mk('rect', {x: c0[0], y: c0[1], width: c1[0] - c0[0], height: c1[1] - c0[1]}, clipData);
  var cells = mk('g', {'clip-path': 'url(#data-' + id + ')', 'shape-rendering': 'crispEdges'}, g);
  
  
  rows.forEach(function(rowStr, r){
    var row = rowStr.replace(/ /g, '');
    for (var i = 0; i < row.length; i++){
      var code = row.charAt(i);
      if (code === '_') continue;
      var a = proj(40 + 5 * i, 60 - 5 * r), b = proj(45 + 5 * i, 55 - 5 * r);
      var cell = mk('rect', {x: a[0].toFixed(1), y: a[1].toFixed(1), width: (b[0] - a[0]).toFixed(1), height: (b[1] - a[1]).toFixed(1), fill: sensColors[sensCodes.indexOf(code)]}, cells);
      
      
    }
  });
  var clipAxes = mk('clipPath', {id: 'axes-' + id}, defsEl);
  mk('rect', {x: axLeft, y: 158, width: axRight - axLeft, height: 278}, clipAxes);
  var landG = mk('g', {'clip-path': 'url(#axes-' + id + ')'}, g);
  
  
  addLand(landG, proj, id, 4);
  lonTicks.forEach(function(lon, i){
    var x = proj(lon, 0)[0];
    var t = mk('line', {x1: x, x2: x, y1: 436, y2: 457, stroke: '#000', 'stroke-width': 4}, g);
    
    
    var l = mk('text', {x: x, y: 500, 'font-size': 37, 'text-anchor': 'middle'}, g);
    l.textContent = lonTickLabels[i];
    
    
  });
  latTicks.forEach(function(lat, i){
    var y = proj(60, lat)[1];
    var t = mk('line', {x1: tickLeft, x2: tickRight, y1: y, y2: y, stroke: '#000', 'stroke-width': 4}, g);
    
    
    var l = mk('text', {x: ylabelRight, y: y + 13, 'font-size': 37, 'text-anchor': 'end'}, g);
    l.textContent = latTickLabels[i];
    
    
  });
}

robinsonPanel('obs-1995', 385.5, 335.3, drawSst('obs-1995', sst1995));
robinsonPanel('obs-2001', 385.5, 788.5, drawSst('obs-2001', sst2001));
robinsonPanel('obs-2013', 385.5, 1241, drawSst('obs-2013', sst2013));
platePanel('lr-1995', 1018, lrEofp, 921, 944, 963, 963, 1559.5);
platePanel('nn-1995', 1876.4, nnEofp, 1779, 1800, 1821, 1821, 2419);
robinsonPanel('lr-2001', 1270.3, 788.5, drawRuns(lrZone));
robinsonPanel('nn-2001', 2125.5, 788.5, drawRuns(nnZone));
robinsonPanel('lr-2013', 1270.3, 1241, drawRuns(lrEofg));
robinsonPanel('nn-2013', 2125.5, 1241, drawRuns(nnEofg));

/* SST colorbar */
(function(){
  var g = document.getElementById('cbar-sst');
  var x0 = 117, x1 = 676, tipLeft = 88, tipRight = 705, top = 1491, bot = 1535.5, mid = (top + bot) / 2;
  function xOf(v){ return x0 + (v + 1) / 2 * (x1 - x0); }
  var grad = mk('linearGradient', {id: 'sst-grad', x1: 0, x2: 1, y1: 0, y2: 0}, defsEl);
  sstStopValues.forEach(function(v, i){
    mk('stop', {offset: (v + 1) / 2, 'stop-color': sstStopColors[i]}, grad);
  });
  var tipL = mk('polygon', {points: x0 + ',' + top + ' ' + tipLeft + ',' + mid + ' ' + x0 + ',' + bot, fill: sstStopColors[0]}, g);
  
  
  var tipR = mk('polygon', {points: x1 + ',' + top + ' ' + tipRight + ',' + mid + ' ' + x1 + ',' + bot, fill: sstStopColors[sstStopColors.length - 1]}, g);
  
  
  var bar = mk('rect', {x: x0, y: top, width: x1 - x0, height: bot - top, fill: 'url(#sst-grad)'}, g);
  
  
  var out = mk('polygon', {points: tipLeft + ',' + mid + ' ' + x0 + ',' + top + ' ' + x1 + ',' + top + ' ' + tipRight + ',' + mid + ' ' + x1 + ',' + bot + ' ' + x0 + ',' + bot, fill: 'none', stroke: '#000', 'stroke-width': 3}, g);
  
  
  sstTicks.forEach(function(v, i){
    var x = xOf(v);
    var t = mk('line', {x1: x, x2: x, y1: bot, y2: 1546, stroke: '#000', 'stroke-width': 3}, g);
    
    
    var l = mk('text', {x: x, y: 1600, 'font-size': 50, 'text-anchor': 'middle'}, g);
    l.textContent = sstTickLabels[i];
    
    
  });
})();

/* Sensitivity colorbar */
(function(){
  var g = document.getElementById('cbar-sens');
  var left = 975, right = 2403, tipLeft = 899, tipRight = 2479, top = 1496, bot = 1535, mid = (top + bot) / 2;
  var first = 1133, step = 158.9;
  function xOfIndex(i){ return first + step * i; }
  var tipL = mk('polygon', {points: left + ',' + top + ' ' + tipLeft + ',' + mid + ' ' + left + ',' + bot, fill: sensColors[0]}, g);
  
  
  var tipR = mk('polygon', {points: right + ',' + top + ' ' + tipRight + ',' + mid + ' ' + right + ',' + bot, fill: sensColors[8]}, g);
  
  
  sensColors.forEach(function(col, i){
    var a = i === 0 ? left : xOfIndex(i - 1), b = i === 8 ? right : xOfIndex(i);
    var seg = mk('rect', {x: a, y: top, width: b - a, height: bot - top, fill: col}, g);
    
    
  });
  var out = mk('polygon', {points: tipLeft + ',' + mid + ' ' + left + ',' + top + ' ' + right + ',' + top + ' ' + tipRight + ',' + mid + ' ' + right + ',' + bot + ' ' + left + ',' + bot, fill: 'none', stroke: '#000', 'stroke-width': 3}, g);
  
  
  sensTicks.forEach(function(v, i){
    var x = xOfIndex(i);
    var t = mk('line', {x1: x, x2: x, y1: bot, y2: 1545, stroke: '#000', 'stroke-width': 2.5}, g);
    
    
    var l = mk('text', {x: x, y: 1598, 'font-size': 50, 'text-anchor': 'middle'}, g);
    l.textContent = sensTickLabels[i];
    
    
  });
})();
</script>
</body>
</html>
